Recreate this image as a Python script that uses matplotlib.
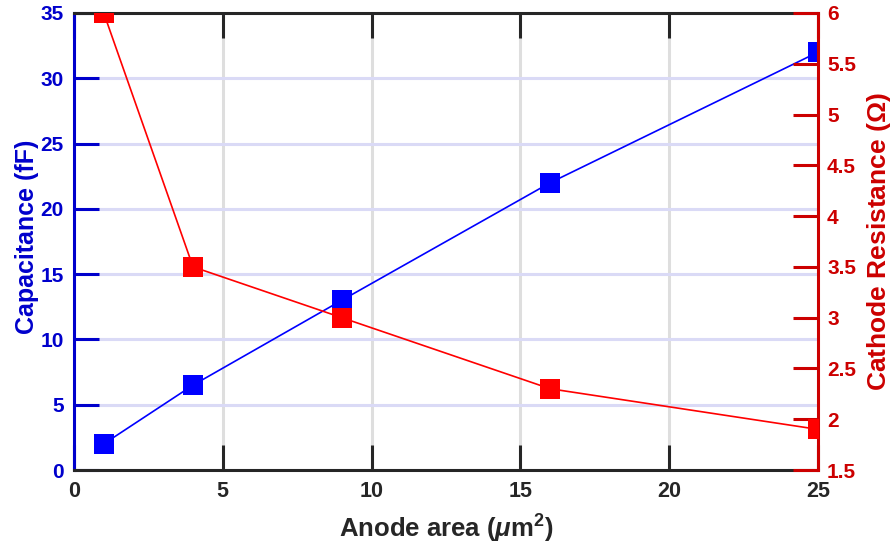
import matplotlib
matplotlib.use("Agg")
import matplotlib.pyplot as plt
from matplotlib.ticker import FuncFormatter

# data
area = [1, 4, 9, 16, 25]
capacitance = [2, 6.5, 13, 22, 32]
resistance = [6, 3.5, 3.0, 2.3, 1.9]

x_ticks = [0, 5, 10, 15, 20, 25]
cap_ticks = [0, 5, 10, 15, 20, 25, 30, 35]
res_ticks = [1.5, 2, 2.5, 3, 3.5, 4, 4.5, 5, 5.5, 6]

plt.rcParams['font.family'] = ['Liberation Sans', 'DejaVu Sans']
plt.rcParams['font.weight'] = 'bold'
plt.rcParams['mathtext.fontset'] = 'custom'
plt.rcParams['mathtext.rm'] = 'Liberation Sans:bold'
plt.rcParams['mathtext.it'] = 'Liberation Sans:bold:italic'
plt.rcParams['mathtext.bf'] = 'Liberation Sans:bold'

blue_ax = '#0000cc'
red_ax = '#cc0000'
dark = '#262626'

fig = plt.figure(figsize=(8.94, 5.48), dpi=100)
ax = fig.add_axes([74 / 894, 1 - 470 / 548, 744 / 894, 457 / 548])
ax2 = ax.twinx()

ax.plot(area, capacitance, color='blue', lw=1.2, marker='s', ms=15,
        markeredgewidth=0, zorder=3)
ax2.plot(area, resistance, color='red', lw=1.2, marker='s', ms=15,
         markeredgewidth=0, zorder=3)

ax.set_xlim(0, 25)
ax.set_ylim(0, 35)
ax2.set_ylim(1.5, 6)
ax.set_xticks(x_ticks)
ax.set_yticks(cap_ticks)
ax2.set_yticks(res_ticks)
ax2.yaxis.set_major_formatter(FuncFormatter(lambda v, p: '%g' % v))

# grid lines
ax.xaxis.grid(True, color='#dedede', lw=2.2)
ax.yaxis.grid(True, color='#dadaf6', lw=2.2)
ax.set_axisbelow(True)

for a in (ax, ax2):
    for s in a.spines.values():
        s.set_linewidth(2.2)
ax.spines['left'].set_color(blue_ax)
ax.spines['right'].set_visible(False)
ax.spines['top'].set_color(dark)
ax.spines['bottom'].set_color(dark)
ax2.spines['right'].set_color(red_ax)
ax2.spines['left'].set_visible(False)
ax2.spines['top'].set_visible(False)
ax2.spines['bottom'].set_visible(False)

ax.tick_params(axis='x', direction='in', length=18, width=2.2, colors=dark,
               top=True, labelsize=15.5, pad=8)
ax.tick_params(axis='y', direction='in', length=18, width=2.2, colors=blue_ax,
               labelsize=15, pad=7.5)
ax2.tick_params(axis='y', direction='in', length=18, width=2.2, colors=red_ax,
                labelsize=15, pad=6.5)

ax.set_xlabel(r'Anode area ($\mu$m$^2$)', fontsize=18.5, fontweight='bold',
              color=dark)
ax.xaxis.set_label_coords(0.5, -0.093)
ax.set_ylabel('Capacitance (fF)', fontsize=18, fontweight='bold',
              color=blue_ax)
ax.yaxis.set_label_coords(-0.047, 0.51)
ax2.set_ylabel(r'Cathode Resistance ($\mathit{\Omega}$)', fontsize=19,
               fontweight='bold', color=red_ax)
ax2.yaxis.set_label_coords(1.063, 0.5)

plt.savefig('out.png', dpi=100)
